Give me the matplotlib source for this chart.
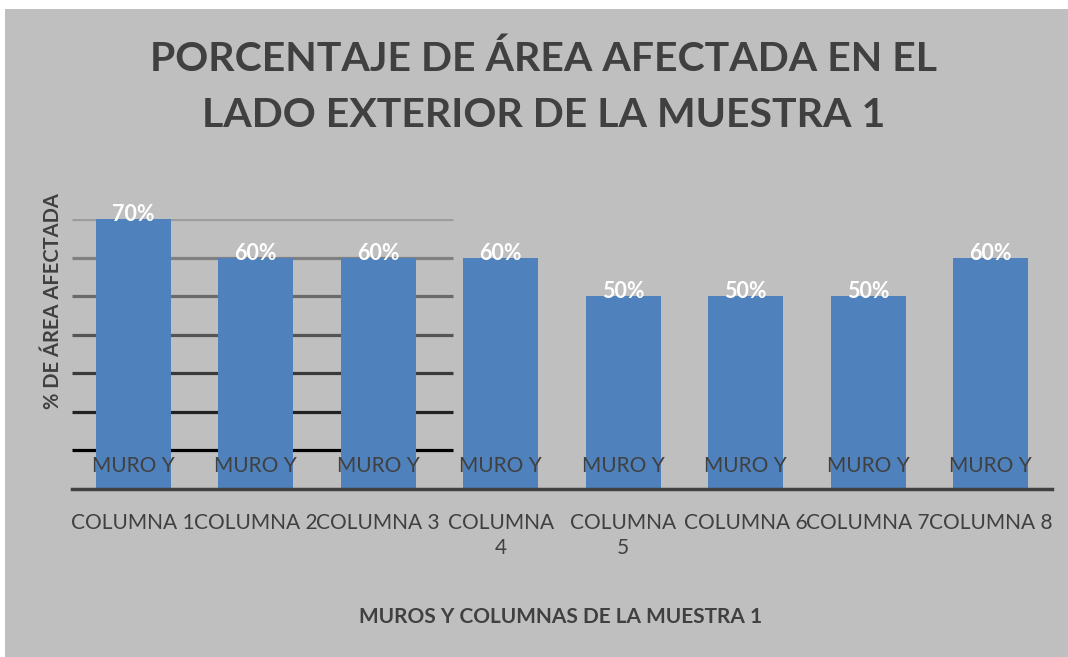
import matplotlib
matplotlib.use("Agg")
import matplotlib.pyplot as plt
from matplotlib.patches import Rectangle
import matplotlib.transforms as mtransforms

# ---- data ----
top_labels = ["MURO Y"] * 8
bottom_labels = ["COLUMNA 1", "COLUMNA 2", "COLUMNA 3", "COLUMNA\n4",
                 "COLUMNA\n5", "COLUMNA 6", "COLUMNA 7", "COLUMNA 8"]
values = [0.70, 0.60, 0.60, 0.60, 0.50, 0.50, 0.50, 0.60]
grid_values = [0.1, 0.2, 0.3, 0.4, 0.5, 0.6, 0.7]
grid_colors = ["#000000", "#222222", "#3a3a3a", "#555555", "#6a6a6a", "#808080", "#9c9c9c"]

title = "PORCENTAJE DE ÁREA AFECTADA EN EL\nLADO EXTERIOR DE LA MUESTRA 1"
ylabel = "% DE ÁREA AFECTADA"
xlabel = "MUROS Y COLUMNAS DE LA MUESTRA 1"

BG = "#BFBFBF"
TXT = "#404040"
BAR = "#4F81BD"
FONT = ["Lato", "DejaVu Sans"]

W, H = 1068, 657
fig = plt.figure(figsize=(W / 100, H / 100), dpi=100, facecolor="white")
fig.patches.append(Rectangle((5 / W, 0), 1 - 5 / W, (H - 9) / H,
                             transform=fig.transFigure, facecolor=BG,
                             edgecolor="none", zorder=-10))

left, right, bottom, top = 72, 1052, 489, 219
ax = fig.add_axes([left / W, (H - bottom) / H, (right - left) / W, (bottom - top) / H])
ax.set_facecolor("none")

n = len(values)
x = list(range(n))
ax.set_xlim(-0.5, n - 0.5)
ax.set_ylim(0, 0.7)

for gv, gc in zip(grid_values, grid_colors):
    ax.hlines(gv, -0.5, 2.61, color=gc, linewidth=2.3, zorder=1)

bars = ax.bar(x, values, width=0.61, color=BAR, zorder=2)

for xi, v in zip(x, values):
    ax.annotate(f"{int(round(v * 100))}%", (xi, v), xytext=(0, -1.5),
                textcoords="offset points", ha="center", va="baseline",
                color="white", fontsize=15.5, fontweight="bold",
                family=FONT, zorder=4, annotation_clip=False)

for xi, lab in zip(x, top_labels):
    ax.text(xi, 23 / (bottom - top), lab, transform=mtransforms.blended_transform_factory(ax.transData, ax.transAxes),
            ha="center", va="center", color=TXT, fontsize=15, family=FONT, zorder=3)

ax.set_xticks(x)
ax.set_xticklabels(bottom_labels, fontsize=15, color=TXT, family=FONT,
                   linespacing=1.3)
ax.tick_params(axis="x", length=0, pad=17.5)
ax.set_yticks([])

for s in ["left", "right", "top"]:
    ax.spines[s].set_visible(False)
ax.spines["bottom"].set_color(TXT)
ax.spines["bottom"].set_linewidth(2.5)
ax.spines["bottom"].set_zorder(5)

fig.text(544 / W, 1 - 87 / H, title, ha="center", va="center", color=TXT,
         fontsize=29.5, fontweight="bold", family=FONT, linespacing=1.62)
fig.text(53 / W, 1 - 301 / H, ylabel, rotation=90, ha="center", va="center",
         color=TXT, fontsize=14.5, fontweight="bold", family=FONT)
fig.text(561 / W, 1 - 617 / H, xlabel, ha="center", va="center",
         color=TXT, fontsize=15, fontweight="bold", family=FONT)

fig.savefig("out.png", dpi=100, facecolor="white")
